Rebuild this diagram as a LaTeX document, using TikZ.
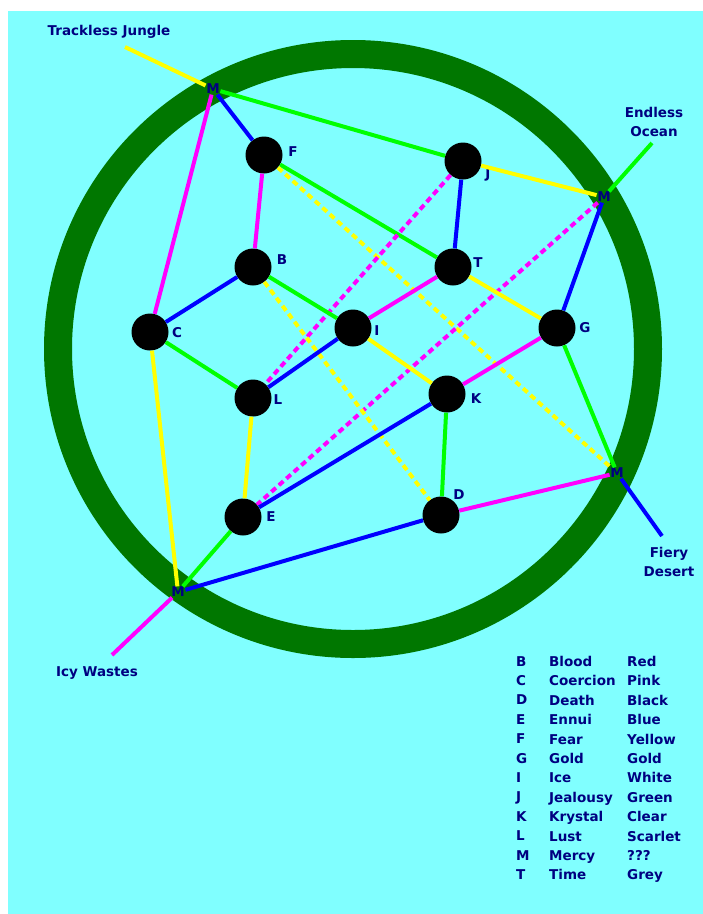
\documentclass[tikz,border=0pt]{standalone}
\usepackage{fontspec}
\setmainfont{DejaVu Sans}
\usetikzlibrary{positioning}
\definecolor{skycyan}{RGB}{128,255,255}
\definecolor{ringgreen}{RGB}{0,119,0}
\definecolor{inkblue}{RGB}{0,0,128}
\definecolor{wireblue}{RGB}{0,0,255}
\definecolor{wirepink}{RGB}{255,0,255}
\definecolor{wiregreen}{RGB}{0,255,0}
\definecolor{wireyellow}{RGB}{255,255,0}

\begin{document}
\begin{tikzpicture}[
    x=1pt, y=-1pt,
    every node/.style={font=\fontsize{13.5}{19.4}\selectfont\bfseries, text=inkblue},
    dot/.style={circle, fill=black, minimum size=37pt, inner sep=0pt},
    gate/.style={inner sep=0.5pt},
    tag/.style={inner sep=0pt},
    wire/.style={line width=4pt},
    blu/.style={wire, wireblue},
    pnk/.style={wire, wirepink},
    grn/.style={wire, wiregreen},
    yel/.style={wire, wireyellow},
    gap/.style={dash pattern=on 6pt off 4pt}
]
\useasboundingbox (0,0) rectangle (703,914);
\fill[skycyan] (8,11) rectangle (703,914);

% Ring
\draw[ringgreen, line width=28pt] (353,349) circle[radius=295pt];

% Dots
\node[dot] (f) at (264,155) {};
\node[dot] (j) at (463,161) {};
\node[dot] (b) at (253,267) {};
\node[dot] (t) at (453,267) {};
\node[dot] (c) at (150,332) {};
\node[dot] (i) at (353,328) {};
\node[dot] (g) at (557,328) {};
\node[dot] (l) at (253,398) {};
\node[dot] (k) at (447,394) {};
\node[dot] (e) at (243,517) {};
\node[dot] (d) at (441,515) {};

% Gates on the ring
\node[gate] (m1) at (213,89) {M};
\node[gate] (m2) at (604,197) {M};
\node[gate] (m3) at (617,473) {M};
\node[gate] (m4) at (178,592) {M};

% Letters
\node[tag] (fl) at (293,152) {F};
\node[tag] (jl) at (488,175) {J};
\node[tag] (bl) at (282,260) {B};
\node[tag] (tl) at (478,263) {T};
\node[tag] (cl) at (177,333) {C};
\node[tag] (il) at (377,331) {I};
\node[tag] (gl) at (585,328) {G};
\node[tag] (ll) at (278,400) {L};
\node[tag] (kl) at (476,399) {K};
\node[tag] (el) at (271,517) {E};
\node[tag] (dl) at (459,495) {D};

% Lands outside
\coordinate (jungleend) at (125,47);
\coordinate (oceanend) at (652,143);
\coordinate (desertend) at (662,536);
\coordinate (wastesend) at (112,655);
\node[tag] (jungle) at (109,32) {Trackless Jungle};
\node[tag, align=center] (ocean) at (654,122) {Endless\\Ocean};
\node[tag, align=center] (desert) at (669,562) {Fiery\\Desert};
\node[tag] (wastes) at (97,673) {Icy Wastes};

\draw[yel] (m1) -- (jungleend);
\draw[grn] (m2) -- (oceanend);
\draw[blu] (m3) -- (desertend);
\draw[pnk] (m4) -- (wastesend);

% Paths
\draw[blu] (m1) -- (f);
\draw[pnk] (m1) -- (c);
\draw[grn] (m1) -- (j);
\draw[pnk] (f) -- (b);
\draw[grn] (f) -- (t);
\draw[yel, gap] (f) -- (m3);
\draw[yel] (j) -- (m2);
\draw[blu] (j) -- (t);
\draw[pnk, gap] (j) -- (l);
\draw[blu] (m2) -- (g);
\draw[pnk, gap] (m2) -- (e);
\draw[blu] (b) -- (c);
\draw[grn] (b) -- (i);
\draw[yel, gap] (b) -- (d);
\draw[pnk] (t) -- (i);
\draw[yel] (t) -- (g);
\draw[grn] (c) -- (l);
\draw[yel] (c) -- (m4);
\draw[blu] (i) -- (l);
\draw[yel] (i) -- (k);
\draw[pnk] (g) -- (k);
\draw[grn] (g) -- (m3);
\draw[yel] (l) -- (e);
\draw[blu] (k) -- (e);
\draw[grn] (k) -- (d);
\draw[grn] (e) -- (m4);
\draw[blu] (d) -- (m4);
\draw[pnk] (d) -- (m3);

% Legend
\node[tag, anchor=north west, align=left] (legkey) at (516,656)
  {B\\C\\D\\E\\F\\G\\I\\J\\K\\L\\M\\T};
\node[tag, anchor=north west, align=left] (legname) at (549,656)
  {Blood\\Coercion\\Death\\Ennui\\Fear\\Gold\\Ice\\Jealousy\\Krystal\\Lust\\Mercy\\Time};
\node[tag, anchor=north west, align=left] (leghue) at (627,656)
  {Red\\Pink\\Black\\Blue\\Yellow\\Gold\\White\\Green\\Clear\\Scarlet\\???\\Grey};
\end{tikzpicture}
\end{document}
